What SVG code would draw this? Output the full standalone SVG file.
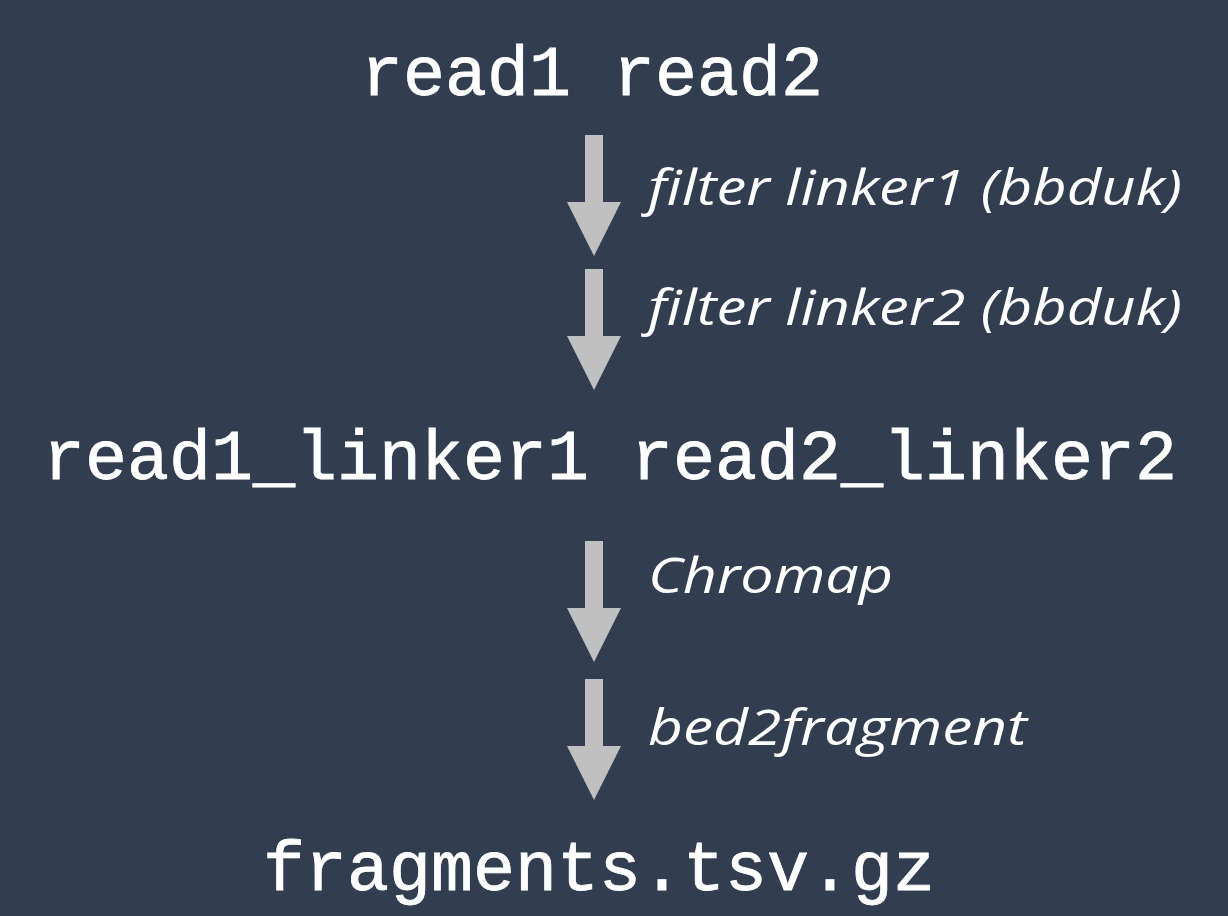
<svg xmlns="http://www.w3.org/2000/svg" width="1228" height="916" viewBox="0 0 1228 916">
<style>
.node{font-family:"Liberation Mono","Courier New",monospace;font-weight:normal;font-size:70px;fill:#ffffff;stroke:#ffffff;stroke-width:0.8px;text-anchor:middle}
.lbl{font-family:"Open Sans","Noto Sans",sans-serif;font-style:italic;font-weight:400;font-size:49px;fill:#ffffff}
.arr{fill:#c0c0c0}
</style>
<defs>
<path id="arrow" d="M585,0 H603 V67 H621 L594,121 L567,67 H585 Z"/>
</defs>
<rect width="1228" height="916" fill="#323e4f"/>
<g id="node-reads"><text class="node" x="592" y="95">read1 read2</text></g>
<g id="node-linkers"><text class="node" x="610" y="479">read1_linker1 read2_linker2</text></g>
<g id="node-fragments"><text class="node" x="599" y="890">fragments.tsv.gz</text></g>
<g id="connectors">
<use href="#arrow" class="arr" y="135"/>
<use href="#arrow" class="arr" y="269"/>
<use href="#arrow" class="arr" y="541"/>
<use href="#arrow" class="arr" y="679"/>
<text class="lbl" x="648" y="205" textLength="534" lengthAdjust="spacingAndGlyphs">filter linker1 (bbduk)</text>
<text class="lbl" x="648" y="325" textLength="534" lengthAdjust="spacingAndGlyphs">filter linker2 (bbduk)</text>
<text class="lbl" x="648" y="593" textLength="245" lengthAdjust="spacingAndGlyphs">Chromap</text>
<text class="lbl" x="648" y="745" textLength="379" lengthAdjust="spacingAndGlyphs">bed2fragment</text>
</g>
</svg>
